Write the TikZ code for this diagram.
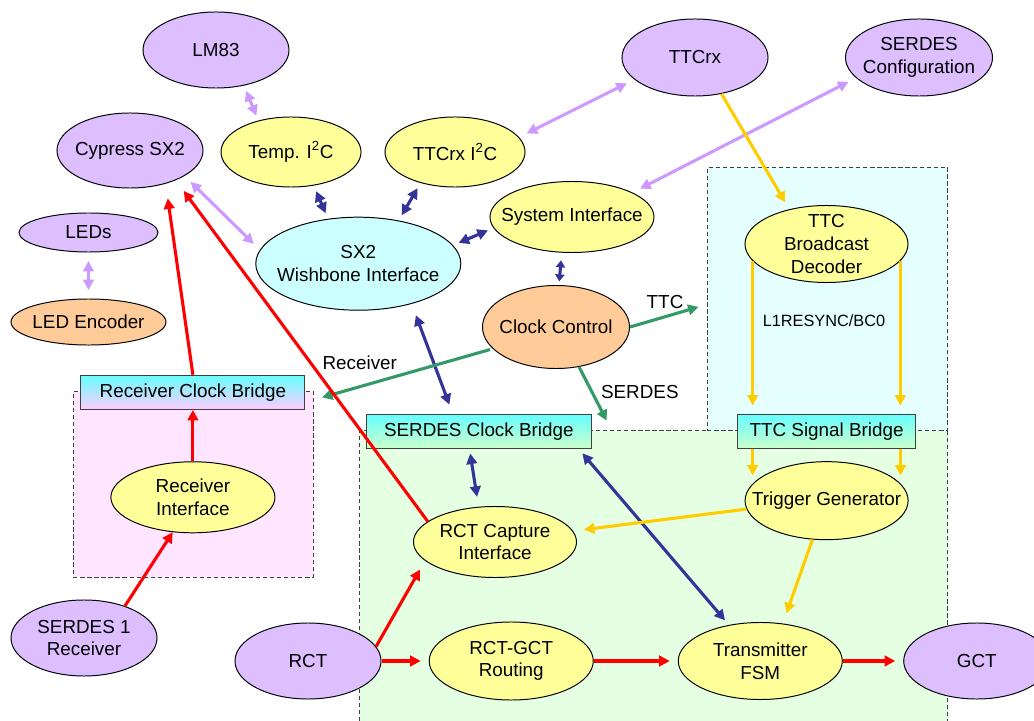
\documentclass[tikz,border=0pt]{standalone}
\usepackage{fontspec}
\setmainfont{Liberation Sans}
\usetikzlibrary{arrows.meta, positioning, shapes.geometric}
\definecolor{lilac}{RGB}{221,190,255}
\definecolor{lemon}{RGB}{255,255,153}
\definecolor{aqua}{RGB}{204,255,255}
\definecolor{peach}{RGB}{255,204,153}
\definecolor{lilacline}{RGB}{204,153,255}
\definecolor{busblue}{RGB}{51,51,153}
\definecolor{clkgreen}{RGB}{51,153,102}
\definecolor{amber}{RGB}{255,204,0}
\definecolor{datared}{RGB}{255,0,0}
\definecolor{cyanzone}{RGB}{229,255,255}
\definecolor{greenzone}{RGB}{229,255,226}
\definecolor{pinkzone}{RGB}{255,229,255}
\definecolor{bridgetop}{RGB}{102,255,255}
\definecolor{bridgegreen}{RGB}{204,255,204}
\definecolor{bridgepink}{RGB}{255,204,255}
\tikzset{
  blob/.style={ellipse, draw=black, line width=0.7pt, align=center, inner xsep=-18pt, inner ysep=-6pt},
  chip/.style={blob, fill=lilac},
  logic/.style={blob, fill=lemon},
  wishbone/.style={blob, fill=aqua},
  clock/.style={blob, fill=peach},
  bridge/.style={rectangle, draw=black!75, line width=0.8pt, inner sep=0pt, minimum height=0.85cm, top color=bridgetop},
  zone/.style={rectangle, draw=black!75, line width=0.8pt, dash pattern=on 3pt off 2pt, anchor=north west, inner sep=0pt},
  cfglink/.style={<->, lilacline, line width=2.2pt, shorten <=0.21cm, shorten >=0.21cm},
  buslink/.style={<->, busblue, line width=2.2pt, shorten <=0.15cm, shorten >=0.15cm},
  ttclink/.style={->, amber, line width=2.2pt, shorten >=0.2cm},
  clklink/.style={->, clkgreen, line width=2.2pt},
  datalink/.style={->, datared, line width=2.2pt, shorten >=0.2cm}
}

\begin{document}
\begin{tikzpicture}[x=0.025cm, y=-0.025cm, >={Triangle[length=7.5pt,width=7.5pt]}, font=\fontsize{13.4pt}{16.1pt}\selectfont]
\useasboundingbox (0,0) rectangle (1034,721);

%----------------------------------------------------------------
\node(serdeszone) [zone, fill=greenzone, minimum width=14.7cm, minimum height=8.25cm] at (359,430) {};
\node(ttczone) [zone, fill=cyanzone, minimum width=6.005cm, minimum height=6.58cm] at (706.7,166.7) {};
\node(rxzone) [zone, fill=pinkzone, minimum width=6cm, minimum height=4.64cm] at (72.7,391) {};

%----------------------------------------------------------------
\node(lm83) [chip, minimum width=3.65cm, minimum height=1.9cm] at (216,50) {LM83};
\node(cypress) [chip, minimum width=3.65cm, minimum height=1.875cm] at (130,150.5) {Cypress SX2};
\node(tempi2c) [logic, minimum width=3.5cm, minimum height=1.75cm] at (291,152) {Temp. I\textsuperscript{2}C};
\node(ttci2c) [logic, minimum width=3.5cm, minimum height=1.75cm] at (455,152) {TTCrx I\textsuperscript{2}C};
\node(leds) [chip, minimum width=3.475cm, minimum height=0.975cm] at (88.5,232.5) {LEDs};
\node(ledenc) [clock, below=1.15cm of leds, minimum width=3.875cm, minimum height=1.15cm] {LED Encoder};
\node(sx2) [wishbone, minimum width=5.125cm, minimum height=2.325cm] at (358.3,263.7) {SX2\\Wishbone Interface};
\node(sysif) [logic, minimum width=4.1cm, minimum height=1.775cm] at (572,217) {System Interface};
\node(clkctrl) [clock, minimum width=3.675cm, minimum height=2.075cm] at (556,327) {Clock Control};
\node(ttcrx) [chip, minimum width=3.65cm, minimum height=1.925cm] at (695,57.5) {TTCrx};
\node(serdescfg) [chip, minimum width=3.675cm, minimum height=1.925cm] at (919,57.5) {SERDES\\Configuration};

%----------------------------------------------------------------
\node(ttcdec) [logic, minimum width=4.075cm, minimum height=1.925cm] at (826.5,244) {TTC\\Broadcast\\Decoder};
\node(resync) [font=\fontsize{11.6pt}{14pt}\selectfont] at (824,321) {L1RESYNC/BC0};
\node(ttcbridge) [bridge, bottom color=bridgegreen, minimum width=4.46cm] at (826.6,431.2) {TTC Signal Bridge};
\node(trigger) [logic, below=0.31cm of ttcbridge, minimum width=4.075cm, minimum height=1.95cm] {Trigger Generator};

%----------------------------------------------------------------
\node(rxbridge) [bridge, bottom color=bridgepink, minimum width=5.6cm] at (192.9,392.3) {Receiver Clock Bridge};
\node(rxif) [logic, below=1.285cm of rxbridge, minimum width=4.1cm, minimum height=1.775cm] {Receiver\\Interface};
\node(serdes1) [chip, minimum width=3.65cm, minimum height=1.9cm] at (84,638) {SERDES 1\\Receiver};

%----------------------------------------------------------------
\node(serdesbridge) [bridge, bottom color=bridgegreen, minimum width=5.625cm] at (478.8,431.2) {SERDES Clock Bridge};
\node(capture) [logic, minimum width=4.075cm, minimum height=1.775cm] at (495,542) {RCT Capture\\Interface};
\node(rct) [chip, minimum width=3.65cm, minimum height=1.9cm] at (308,661) {RCT};
\node(routing) [logic, right=1.18cm of rct, minimum width=4.1cm, minimum height=1.95cm] {RCT-GCT\\Routing};
\node(txfsm) [logic, right=2.1cm of routing, minimum width=4.1cm, minimum height=1.925cm] {Transmitter\\FSM};
\node(gct) [chip, right=1.51cm of txfsm, minimum width=3.65cm, minimum height=1.9cm] {GCT};

%----------------------------------------------------------------
\draw [cfglink, shorten <=0.14cm, shorten >=0.13cm] (lm83.-52) -- (tempi2c.136);
\draw [cfglink] (cypress.-25) -- (sx2.172);
\draw [cfglink] (leds) -- (ledenc);
\draw [cfglink] (ttcrx.-160) -- (ttci2c.13);
\draw [cfglink] (serdescfg.-162) -- (sysif.22);

\draw [buslink] (tempi2c.-56) -- (sx2.124);
\draw [buslink] (ttci2c.-138) -- (sx2.47);
\draw [buslink] (sysif.-172) -- (sx2.11);
\draw [buslink, arrows={Triangle[length=5pt,width=6.5pt]-Triangle[length=5pt,width=6.5pt]}, shorten <=0.19cm, shorten >=0.09cm] (sysif.-106) -- (clkctrl.86);
\draw [buslink, shorten <=0.3cm, shorten >=0.24cm] (sx2.-37) -- (serdesbridge.146);
\draw [buslink, shorten <=0.12cm, shorten >=0.25cm] (serdesbridge.-118) -- (capture.115);
\draw [buslink] (serdesbridge.-10) -- (txfsm.131);

%----------------------------------------------------------------
\draw [ttclink] (ttcrx.-54) -- (ttcdec.137);
\draw [ttclink] (ttcdec.-167) -- (ttcdec.-167 |- ttcbridge.north);
\draw [ttclink] (ttcdec.-13) -- (ttcdec.-13 |- ttcbridge.north);
\draw [ttclink] (ttcbridge.south -| trigger.167) -- (trigger.167);
\draw [ttclink] (ttcbridge.south -| trigger.13) -- (trigger.13);
\draw [ttclink, shorten >=0.27cm] (trigger.-174) -- (capture.8);
\draw [ttclink, shorten >=0.27cm] (trigger.-110) -- (txfsm.59);

%----------------------------------------------------------------
\draw [clklink] (clkctrl.east) -- ([xshift=-0.2cm,yshift=-0.2cm]ttczone.west) node[pos=0.51, above=1pt, text=black] {TTC};
\draw [clklink, shorten <=0.07cm, shorten >=0.43cm] (clkctrl.-161) -- (rxbridge.-5) node[pos=0.71, above=8pt, text=black] {Receiver};
\draw [clklink] (clkctrl.-60) -- ([xshift=0.37cm,yshift=-0.175cm]serdesbridge.north east) node[pos=0.47, right=2pt, text=black] {SERDES};

%----------------------------------------------------------------
\draw [datalink, shorten >=0.37cm] (rxbridge.north) -- (cypress.-43);
\draw [datalink, shorten >=0.33cm] (capture.163) -- (cypress.-33);
\draw [datalink, shorten >=0cm] (rxif) -- (rxbridge);
\draw [datalink, shorten >=0cm] (serdes1.38) -- (rxif.-120);
\draw [datalink, shorten >=0.25cm] (rct.12) -- (capture.-165);
\draw [datalink] (rct) -- (routing);
\draw [datalink] (routing) -- (txfsm);
\draw [datalink] (txfsm) -- (gct);

\end{tikzpicture}
\end{document}
